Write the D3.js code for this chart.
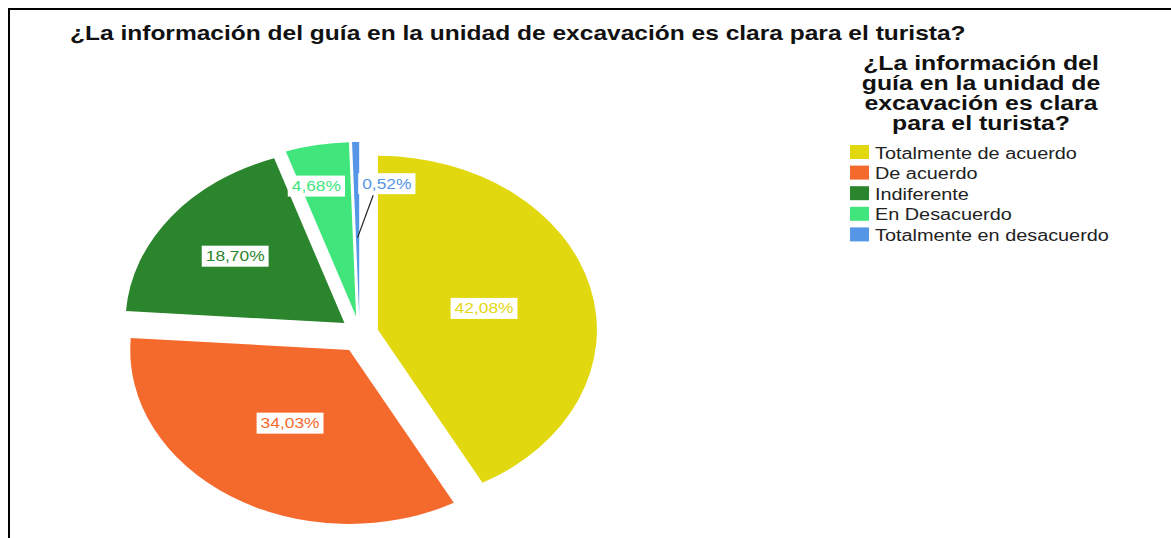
<!DOCTYPE html>
<html>
<head>
<meta charset="utf-8">
<script src="https://cdn.jsdelivr.net/npm/d3@7"></script>
<style>
  body { margin: 0; background: #fff; }
  text { font-family: Arial, "Liberation Sans", sans-serif; }
</style>
</head>
<body>
<script>
var title = "¿La información del guía en la unidad de excavación es clara para el turista?";
var categories = ["Totalmente de acuerdo", "De acuerdo", "Indiferente", "En Desacuerdo", "Totalmente en desacuerdo"];
var values = [42.08, 34.03, 18.70, 4.68, 0.52];
var colors = ["#e2d810", "#f46a2d", "#2a852c", "#40e67c", "#5596e6"];

var W = 1171, H = 538;
var SX = 1.24;                 // the picture is stretched sideways
var rx = 219, ry = 174;
var cx = 359.5, cy = 334.4;
var ex = 19, ey = 18.5;        // explode offset

var svg = d3.select("body").append("svg")
    .attr("width", W)
    .attr("height", H);

// frame (top and left only)
svg.append("line").attr("x1", 9).attr("y1", 9).attr("x2", W).attr("y2", 9)
    .attr("stroke", "#000").attr("stroke-width", 2);
svg.append("line").attr("x1", 9).attr("y1", 8).attr("x2", 9).attr("y2", H)
    .attr("stroke", "#000").attr("stroke-width", 2);

// stretch text sideways like the original
function stretch(t) {
  var w = t.node().getComputedTextLength() * SX;
  t.attr("textLength", w).attr("lengthAdjust", "spacingAndGlyphs");
  return w;
}

var fmt = function(v) { return d3.format(".2f")(v).replace(".", ",") + "%"; };

// Title
var tt = svg.append("text")
    .attr("x", 70)
    .attr("y", 40)
    .style("font-size", "19.8px")
    .style("font-weight", "bold")
    .attr("fill", "#111")
    .text(title);
stretch(tt);

// Pie
var pie = d3.pie().sort(null).value(function(d) { return d; });
var arcs = pie(values);
var arc = d3.arc().innerRadius(0).outerRadius(ry);

arcs.forEach(function(d, i) {
  var mid = (d.startAngle + d.endAngle) / 2;
  d.ox = cx + ex * Math.sin(mid);
  d.oy = cy - ey * Math.cos(mid);
  d.mid = mid;
});

svg.selectAll(".slice")
    .data(arcs)
    .enter().append("path")
    .attr("class", "slice")
    .attr("transform", function(d) { return "translate(" + d.ox + "," + d.oy + ") scale(" + (rx / ry) + ",1)"; })
    .attr("d", arc)
    .attr("fill", function(d, i) { return colors[i]; });

// Labels
var labels = svg.append("g");
arcs.forEach(function(d, i) {
  var v = values[i];
  var f = v > 30 ? 0.5 : v > 10 ? 0.63 : 0.76;
  var lx = d.ox + f * rx * Math.sin(d.mid);
  var ly = d.oy - f * ry * Math.cos(d.mid);
  if (v < 10 && v >= 1) lx -= 10;   // small slice label sits a bit left
  var g = labels.append("g");
  var rect = g.append("rect").attr("fill", "#fff");
  var t = g.append("text")
      .style("font-size", "14px")
      .attr("fill", colors[i])
      .text(fmt(v));
  var w = stretch(t);
  var pad = 4, h = 21;
  var x0;
  if (v < 1) {
    // tiny slice: label beside it with a leader line
    var edge = d.ox + ry * Math.sin(d.endAngle);
    x0 = edge - 1;
    var p = [d.ox + 0.45 * rx * Math.sin(d.mid), d.oy - 0.45 * ry * Math.cos(d.mid)];
    labels.insert("line", ":first-child")
        .attr("x1", x0 + 15).attr("y1", ly + h / 2 + 1)
        .attr("x2", p[0]).attr("y2", p[1])
        .attr("stroke", "#222").attr("stroke-width", 1.2);
  } else {
    x0 = lx - w / 2 - pad;
  }
  rect.attr("x", x0).attr("y", ly - h / 2).attr("width", w + 2 * pad).attr("height", h);
  t.attr("x", x0 + pad).attr("y", ly + 5);
});

// Legend title, wrapped
var lcx = 981, maxW = 250;
var words = title.split(" "), lines = [], cur = "";
var probe = svg.append("text").style("font-size", "20px").style("font-weight", "bold");
words.forEach(function(wd) {
  var test = cur ? cur + " " + wd : wd;
  probe.text(test);
  if (probe.node().getComputedTextLength() * SX > maxW && cur) {
    lines.push(cur);
    cur = wd;
  } else {
    cur = test;
  }
});
lines.push(cur);
probe.remove();

lines.forEach(function(line, i) {
  var t = svg.append("text")
      .attr("y", 70 + i * 20)
      .style("font-size", "20px")
      .style("font-weight", "bold")
      .attr("fill", "#111")
      .text(line);
  var w = stretch(t);
  t.attr("x", lcx - w / 2);
});

// Legend items
var legend = svg.selectAll(".legend")
    .data(categories)
    .enter().append("g")
    .attr("class", "legend")
    .attr("transform", function(d, i) { return "translate(850," + (145 + i * 20.6) + ")"; });

legend.append("rect")
    .attr("width", 19)
    .attr("height", 14)
    .attr("fill", function(d, i) { return colors[i]; });

legend.append("text")
    .attr("x", 25)
    .attr("y", 13.5)
    .style("font-size", "16px")
    .attr("fill", "#222")
    .text(function(d) { return d; })
    .each(function() { stretch(d3.select(this)); });
</script>
</body>
</html>
